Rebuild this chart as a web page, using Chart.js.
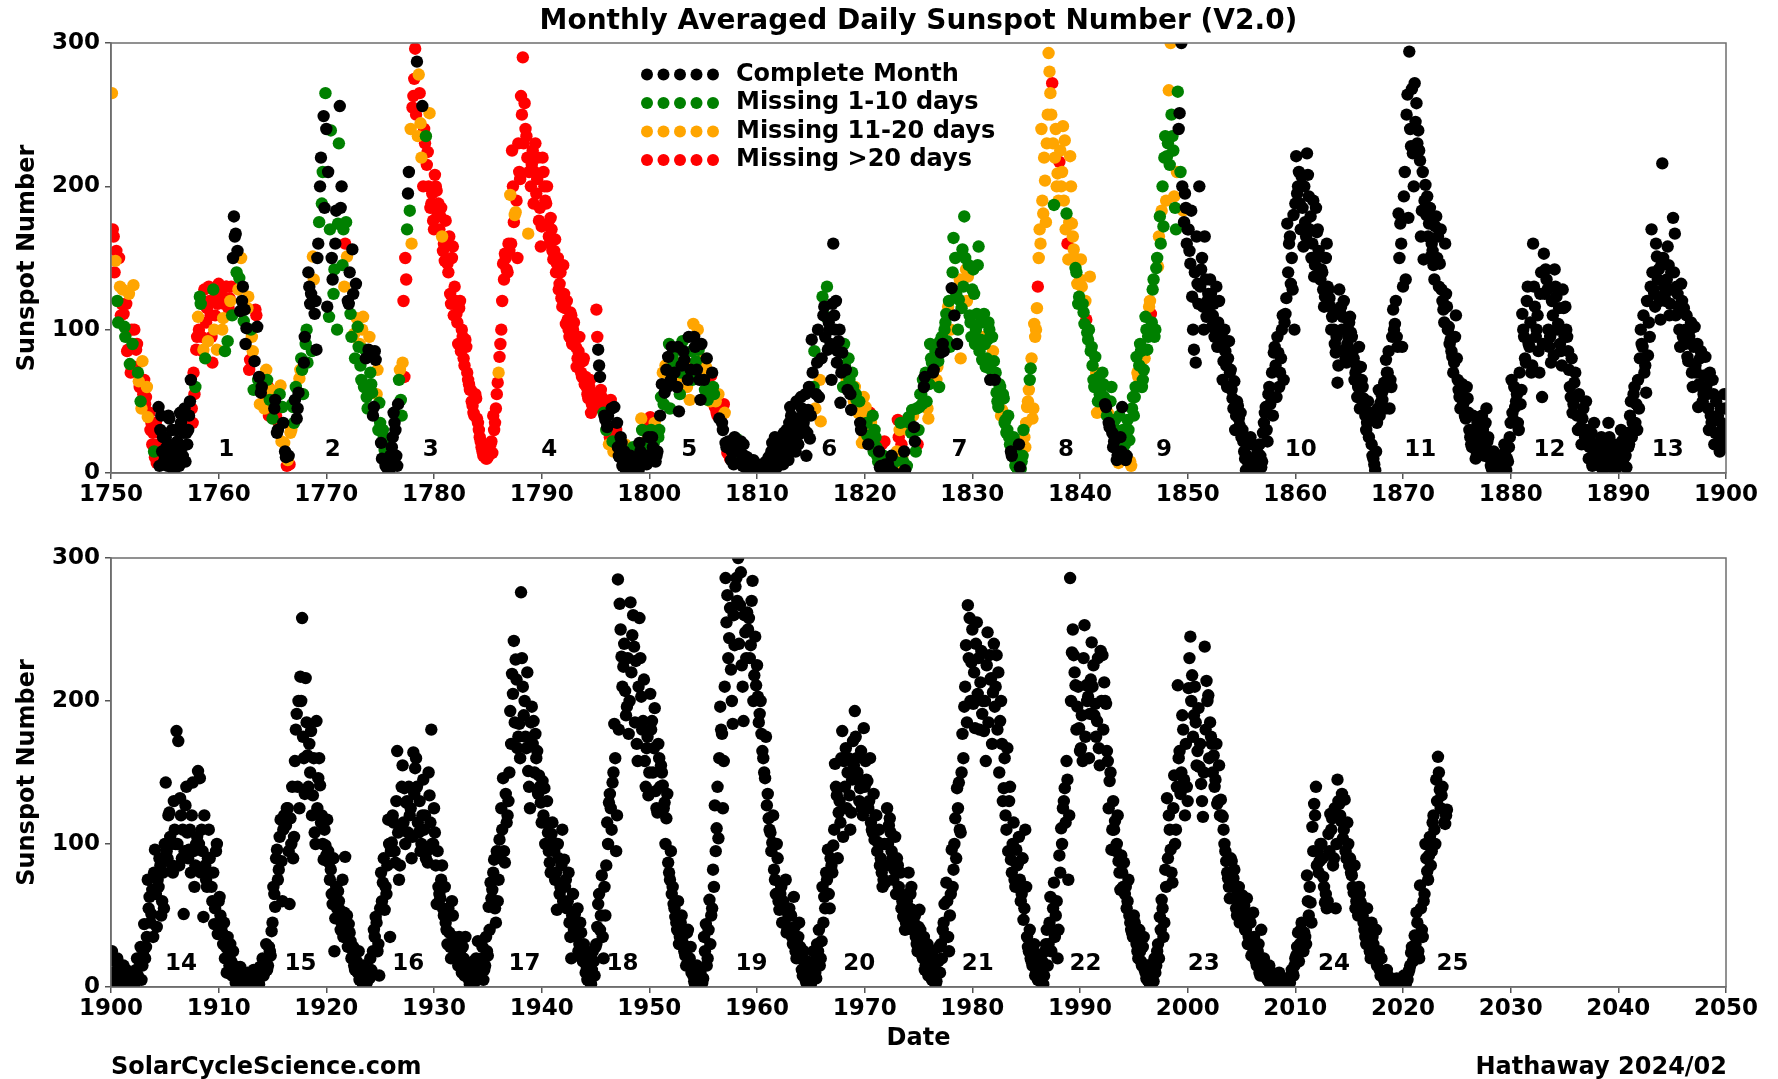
<!DOCTYPE html>
<html lang="en">
<head>
<meta charset="UTF-8" />
<title>Monthly Averaged Daily Sunspot Number (V2.0)</title>
<script src="https://cdn.jsdelivr.net/npm/chart.js"></script>
<style>
  body { margin: 0; background: #fff; }
  #page { position: relative; width: 1778px; height: 1079px; overflow: hidden; }
  canvas { position: absolute; left: 0; }
  .foot { position: absolute; top: 1052px; font: bold 24px "DejaVu Sans", sans-serif; color: #000; white-space: nowrap; }
</style>
</head>
<body>
<div id="page">
  <canvas id="topChart" width="1778" height="530" style="top:0"></canvas>
  <canvas id="bottomChart" width="1778" height="559" style="top:520px"></canvas>
  <div class="foot" style="left:111px">SolarCycleScience.com</div>
  <div class="foot" style="right:51px">Hathaway 2024/02</div>
</div>
<script>
// monthly averaged daily sunspot number
// one row per year; plain arrays hold Jan/Mar/May/Jul/Sep/Nov, "b" arrays Feb/Apr/Jun/Aug/Oct/Dec
const sn1750 = [
  [265,165,148,120,150,110],[128,102,118,86,76,100],[131,74,90,64,50,78],[65,53,39,42,35,28],[11,7,46,30,15,8],
  [25,5,38,12,20,3],[30,10,42,18,28,8],[20,40,65,35,55,86],[109,123,95,86,80,115],[130,110,77,100,125,118],
  [120,128,108,85,130,115],[120,110,179,167,155,136],[150,130,114,101,123,79],[95,58,114,102,67,56],[60,45,72,60,51,42],
  [53,51,28,35,61,46],[21,11,9,6,30,46],[51,38,56,72,72,77],[90,77,130,125,151,111],[86,160,200,188,249,265],
  [116,109,239,135,142,183],[174,256,200,170,160,151],[118,111,156,97,132,102],[90,65,109,86,53,86],[70,56,46,79,72,49],
  [21,30,16,8,2,12],[18,42,30,5,65,51],[77,67,135,195,183,160],[263,296,287,278,244,256],[240,235,224,251,188,176],
  [208,197,188,179,165,160],[176,146,165,118,158,130],[111,90,120,100,80,93],[70,62,58,47,40,52],[35,25,18,12,15,10],
  [12,20,14,30,45,63],[81,100,146,153,142,160],[194,225,175,182,150,210],[263,290,258,235,167,220],[215,188,230,205,176,158],
  [220,200,188,174,160,170],[149,163,146,128,140,116],[125,104,107,95,110,100],[93,74,85,77,67,80],[67,55,60,42,51,48],
  [114,86,67,53,42,37],[32,20,51,22,46,30],[18,11,21,8,20,4],[7,12,3,15,5,9],[21,38,10,18,6,25]
];
// k = complete month, g = missing 1-10 days, o = missing 11-20 days, r = missing >20 days
const flags1750 = [
  "orogrr","ogrrgr","orrogo","rrorrr","rrkkkk","kkkkkk","kkkkkk","kkkrrr","ogrogr","rrrorr",
  "rrogrr","ogkkkg","okkkor","ogrkkk","ooorgr","okkrog","okorog","kkkogk","ggkkok","kkkgkg",
  "kggkgk","gkkgro","kgkokg","ogoggk","ggkkog","kggkkk","kkkkgg","orrkgo","rrkook","rgrorr",
  "rrrror","rrrrrr","rrrrrr","rrrrrr","rrrrrr","rrrrrr","rrrrrr","orrorr","rrrror","rrrrrr",
  "rrrrrr","rrrrrr","rrrrrr","rrrrrr","rrrrrr","rkkrgk","korgkr","kkkkok","kkkgkk","kokgkk"
];
const sn1750b = [
  [170,140,155,105,130,118],[111,95,85,125,70,90],[100,86,70,60,45,55],[48,60,42,30,20,15],[35,20,5,40,25,12],
  [18,40,8,30,2,15],[22,5,35,12,45,28],[30,50,45,70,60,95],[100,118,85,128,105,92],[120,95,128,110,86,132],
  [125,100,118,130,92,122],[130,150,165,140,128,113],[120,106,90,115,72,100],[85,78,110,65,48,60],[55,48,65,40,58,38],
  [45,40,30,55,22,35],[15,5,12,28,48,35],[60,45,66,80,55,95],[100,140,118,85,135,120],[150,175,220,210,185,240],
  [210,170,150,125,160,100],[230,185,145,130,175,120],[140,95,125,80,108,88],[75,100,60,80,45,95],[62,40,85,55,30,35],
  [10,25,5,20,0,6],[25,35,12,48,72,40],[120,150,170,210,240,255],[275,250,235,265,220,200],[230,215,200,185,195,170],
  [200,180,170,185,155,148],[160,140,125,150,110,120],[105,115,85,95,75,88],[65,58,50,42,55,38],[30,22,15,18,10,12],
  [14,22,40,35,55,70],[90,120,135,150,140,155],[160,200,180,190,230,205],[250,230,240,220,210,200],[225,210,195,220,185,172],
  [210,190,200,165,178,155],[155,140,150,132,122,145],[115,120,100,112,90,105],[88,80,95,70,78,62],[60,52,65,48,45,55],
  [95,75,58,48,40,30],[40,25,45,15,28,35],[12,25,5,15,2,10],[4,10,18,6,14,2],[15,30,8,22,12,35]
];
const flags1750b = [
  "rrrgor","rgrorg","rrgror","rorrrg","rrkkkk","kkkkkk","kkkkkk","kkrrgr","rgrrro","rrgror",
  "rorrgr","rkkgok","kgkorg","okrgok","rogrog","krkgok","krkogg","gkoggk","gkkgok","kgkgkk",
  "kgkgkg","gkgogk","kgkgog","gogkgo","gkkogg","kgkgkk","kkkkog","rrgkor","rroror","rrrrrr",
  "rrrrrr","rrrrrr","rrrrrr","rrrrrr","rrrrrr","rrrrro","rrrrrr","rrorrr","rrrrrr","rrrrrr",
  "rrrrrr","rrrrrr","rrrrrr","rrrrrr","rrrrrr","rkrrkg","krkork","kkkkkk","kkgkok","kgkokr"
];
const sn1800 = [
  [39,25,21,8,15,30],[53,70,56,72,81,45],[88,77,77,60,43,70],[92,79,77,65,51,85],[104,88,72,86,51,80],
  [65,74,51,56,68,60],[46,42,55,38,35,48],[21,14,18,9,12,25],[24,18,7,13,20,4],[11,2,8,5,0,3],
  [3,0,6,1,4,2],[11,5,21,3,8,15],[12,25,6,18,30,9],[46,32,21,15,38,27],[53,39,30,12,44,24],
  [93,60,45,77,53,36],[123,116,109,86,100,65],[160,100,77,92,49,84],[90,72,58,65,44,60],[60,51,42,35,21,53],
  [46,26,37,35,40,30],[18,8,4,20,12,6],[3,10,2,6,0,4],[37,30,20,8,2,5],[39,30,44,32,15,20],
  [46,55,65,67,50,38],[90,77,72,85,74,60],[84,90,100,111,116,88],[129,164,150,90,121,80],[156,179,142,137,110,95],
  [142,90,111,158,93,79],[111,74,93,100,72,85],[65,56,46,60,44,52],[37,30,25,15,20,10],[14,2,4,8,30,18],
  [46,58,73,38,104,100],[130,170,240,181,204,230],[293,265,272,187,240,209],[217,200,242,232,181,149],[221,174,156,143,132,123],
  [149,118,104,107,93,137],[88,65,81,42,67,58],[70,53,46,42,32,60],[18,37,9,7,25,46],[14,9,37,23,5,53],
  [53,81,67,90,60,72],[109,86,116,111,128,95],[143,144,179,183,172,235],[221,267,300,235,193,170],[266,251,300,183,195,160]
];
const flags1800 = [
  "rkgkkg","gokkkg","kgokkg","gkokog","okkgko","kogorg","rrorkr","krkkok","gkkkkk","kkkkkk",
  "kkkkkk","kkkkkk","kkkkkk","kkkkkk","kkkkkk","kgokko","gkgkkk","kkkkkk","gkkgkg","ogokoo",
  "ogrogg","ggkrgk","kgkgko","rorgkg","gogkgr","gggkgo","ggkgog","kkggog","kggkgo","ggoogg",
  "gggggg","gggggo","kgggog","gggkgg","ggkggo","oogooo","rooooo","oorgoo","rooogo","ooogog",
  "oggrgo","gggogg","ggkokg","kgkokk","gkggog","ggoggg","ggorgg","gogogg","googog","gkkokk"
];
const sn1800b = [
  [30,18,35,12,25,40],[62,48,75,60,90,65],[82,70,65,88,55,75],[85,70,60,95,72,65],[95,78,100,65,90,70],
  [58,80,62,50,70,55],[50,40,38,45,30,42],[18,22,10,15,6,20],[15,10,22,5,12,8],[6,4,1,9,2,5],
  [2,5,0,3,8,1],[6,15,10,25,4,18],[20,8,28,15,22,35],[40,25,30,50,20,35],[45,35,55,28,60,40],
  [70,85,55,100,65,80],[110,95,130,105,90,118],[110,120,85,100,70,60],[75,65,80,55,70,50],[55,45,50,30,40,25],
  [35,20,42,28,15,25],[12,15,5,10,22,3],[6,2,12,0,8,15],[25,35,12,15,4,30],[35,28,40,22,45,30],
  [55,48,60,70,45,62],[80,70,88,65,78,92],[95,85,105,92,120,100],[140,110,125,100,135,115],[130,150,120,145,105,128],
  [125,100,145,85,105,95],[90,80,105,65,95,78],[70,50,62,40,55,35],[28,40,20,12,25,5],[8,20,3,12,25,35],
  [50,65,80,45,95,115],[150,160,190,220,175,250],[280,250,230,220,200,190],[225,210,190,170,160,175],[200,165,150,140,118,135],
  [130,112,120,98,100,85],[75,60,70,50,55,45],[62,48,40,35,50,28],[22,30,12,40,15,30],[20,12,30,8,45,40],
  [60,70,75,85,65,80],[100,95,120,105,135,100],[150,165,160,200,220,190],[230,215,250,225,185,210],[240,210,200,175,185,170]
];
const flags1800b = [
  "gkokgk","kgokgk","gkokgk","kgokkg","kgokko","gkrokg","orkrko","kkrkkk","kgkkkk","kkkkkk",
  "kkkkkk","kkkkkk","kkkkkk","kkkkkk","kkkkkk","kgkkok","kkgkkk","kkkkkg","gogkgo","gogkoo",
  "gkrogg","gkkgrk","kgkkgo","rgokgo","ggokgg","ggkgog","gkgogg","gkgggo","gkggog","ggoggg",
  "gggggo","gggkgg","gggogg","gggkgg","gkggoo","ogoooo","oooooo","oooooo","ooooro","oooggo",
  "ogoggg","ggoggo","gkgkgk","kgkgkg","gkgogg","gogggo","ggoggg","gogggo","gggggo","kgkkkk"
];
const sn1850 = [
  [170,146,123,86,77,132],[200,142,116,165,109,125],[135,102,118,100,88,120],[88,65,100,75,80,70],[58,45,30,50,38,42],
  [30,15,2,8,20,5],[10,3,18,6,12,8],[35,46,22,60,53,40],[88,53,84,70,100,65],[111,174,160,132,128,100],
  [221,200,188,207,158,175],[223,193,179,160,137,185],[170,151,142,128,123,160],[128,116,109,100,84,63],[128,116,109,86,77,95],
  [109,95,80,70,53,88],[74,60,45,30,50,38],[20,10,2,35,58,49],[51,63,79,70,45,60],[114,104,95,181,174,88],
  [193,135,264,294,228,223],[272,258,239,218,183,149],[201,193,174,151,155,135],[179,165,146,128,114,160],[116,102,93,81,77,110],
  [65,53,56,48,40,60],[42,25,18,30,10,35],[37,20,30,12,45,25],[10,3,15,8,2,6],[12,5,20,2,8,25],
  [65,37,46,55,30,48],[111,95,77,130,88,70],[160,116,100,85,125,53],[153,142,128,88,77,110],[142,123,104,90,75,115],
  [116,95,72,53,42,63],[53,30,40,20,45,25],[30,10,22,5,35,15],[15,5,25,2,10,18],[35,12,5,20,3,8],
  [15,30,8,25,4,18],[40,25,55,35,30,45],[100,88,70,56,82,95],[170,128,116,151,142,107],[216,130,120,158,110,140],
  [178,167,130,116,88,120],[115,100,81,95,105,60],[102,70,46,80,60,55],[81,55,30,40,65,20],[50,40,15,35,25,45]
];
const sn1850b = [
  [155,183,100,140,165,118],[130,150,100,135,120,112],[125,110,95,130,105,92],[95,78,85,60,92,72],[52,64,40,47,33,25],
  [22,10,12,4,25,8],[2,6,14,20,4,28],[42,30,55,48,70,84],[75,95,60,80,110,105],[122,140,165,150,180,188],
  [195,210,170,185,200,165],[208,170,150,190,145,168],[155,135,140,116,150,130],[122,100,110,90,95,75],[112,100,120,80,90,105],
  [98,85,65,75,60,45],[65,52,40,35,25,42],[12,6,15,45,40,55],[58,45,70,85,65,95],[100,120,88,150,160,130],
  [210,250,178,240,268,200],[245,230,225,165,210,190],[180,165,185,160,145,172],[150,130,170,120,105,125],[100,90,85,70,95,80],
  [58,45,62,50,38,52],[30,20,40,25,15,22],[28,40,18,35,22,15],[5,12,8,0,4,10],[8,3,15,10,18,35],
  [42,60,50,35,70,58],[100,80,120,90,105,75],[130,95,110,70,140,90],[125,135,100,95,120,82],[130,100,115,85,128,95],
  [100,85,60,80,48,70],[40,55,32,38,28,50],[22,18,28,12,20,8],[10,20,4,14,8,22],[25,10,15,2,12,6],
  [10,22,5,12,28,20],[50,35,60,48,65,80],[90,110,75,120,105,130],[140,125,160,135,120,145],[150,125,135,145,118,128],
  [140,110,125,100,132,95],[90,110,78,100,70,88],[75,90,62,85,50,68],[60,45,70,35,55,28],[38,22,45,30,55,18]
];
const sn1900 = [
  [25,10,5,20,2,15],[8,2,12,3,5,0],[10,4,20,6,28,15],[44,28,75,63,51,35],[96,42,70,85,60,55],
  [143,90,122,100,80,110],[179,172,132,90,51,127],[108,96,80,143,70,100],[151,146,110,49,85,70],[110,80,60,44,95,37],
  [63,42,30,20,10,25],[30,8,15,3,12,5],[10,2,6,0,4,8],[3,12,1,6,2,8],[20,10,30,15,25,39],
  [70,56,96,82,117,60],[120,113,125,58,100,90],[158,191,200,217,258,160],[216,162,170,179,134,108],[186,146,141,120,89,99],
  [117,87,82,58,25,70],[67,54,45,35,91,50],[44,32,21,15,25,10],[5,12,2,8,3,6],[20,10,40,49,25,8],
  [80,73,54,65,117,35],[101,115,87,165,75,110],[155,139,129,108,120,90],[164,153,140,108,95,120],[110,90,87,134,180,100],
  [108,58,70,62,85,50],[45,30,38,20,50,25],[30,15,25,10,20,35],[12,5,15,3,8,20],[32,10,20,5,15,25],
  [56,73,68,89,45,60],[103,125,146,87,115,130],[193,219,242,229,167,184],[276,210,200,167,151,125],[196,186,177,165,148,129],
  [144,139,115,108,87,107],[101,75,54,90,70,110],[89,75,60,45,20,65],[51,35,25,45,20,30],[10,5,15,2,25,8],
  [30,58,40,78,20,50],[115,129,125,143,184,95],[285,268,231,224,207,196],[177,269,246,238,228,158],[258,203,186,158,167,134]
];
const sn1900b = [
  [8,18,3,12,6,10],[15,4,8,2,10,6],[2,12,8,18,5,25],[20,35,55,45,68,80],[65,75,90,50,80,100],
  [95,120,105,85,130,100],[100,85,120,110,95,140],[90,110,120,95,85,105],[100,80,95,120,75,90],[90,70,80,55,100,60],
  [50,38,45,28,35,15],[18,25,10,6,2,14],[4,8,2,10,1,5],[6,2,9,4,14,10],[8,18,12,28,22,45],
  [65,90,75,105,88,110],[115,125,95,118,140,105],[180,140,125,200,175,135],[185,140,150,120,160,100],[125,160,115,100,110,92],
  [95,75,65,90,48,55],[60,40,75,52,35,28],[38,20,28,12,18,25],[8,4,15,2,10,6],[12,25,35,45,30,55],
  [60,90,70,85,100,95],[120,95,130,108,85,140],[115,100,130,140,125,105],[135,160,115,130,100,145],[120,95,150,115,100,125],
  [85,95,65,75,55,70],[40,55,28,60,35,20],[22,35,18,28,8,15],[10,2,6,18,4,12],[18,6,28,12,35,22],
  [40,62,80,55,95,75],[90,110,95,135,120,150],[170,205,185,215,175,160],[230,190,175,220,140,185],[170,150,160,135,140,115],
  [120,100,130,95,80,115],[95,80,100,65,85,60],[70,55,80,35,50,40],[40,55,30,38,18,25],[15,22,4,12,18,28],
  [42,65,50,35,70,85],[100,135,110,150,160,120],[180,250,210,240,190,230],[200,220,260,185,170,210],[230,180,215,140,175,150]
];
const sn1950 = [
  [205,186,167,137,122,160],[155,141,129,118,87,75],[65,58,49,40,30,45],[35,25,15,40,20,10],[8,2,15,5,10,3],
  [35,44,20,61,50,82],[127,111,104,196,177,158],[286,274,244,222,184,239],[286,300,267,225,186,248],[262,258,239,284,218,211],
  [203,191,177,160,146,127],[118,108,101,82,65,90],[54,70,60,45,38,50],[40,35,63,25,30,45],[20,8,15,3,12,5],
  [15,25,10,30,40,20],[70,63,80,96,55,85],[99,156,134,122,115,179],[158,167,150,134,122,172],[193,160,145,139,125,181],
  [158,144,130,115,108,103],[120,101,85,80,75,73],[125,113,108,90,82,65],[85,65,55,49,40,60],[80,65,54,45,35,25],
  [54,30,20,12,25,8],[15,5,20,2,10,28],[30,40,58,73,35,50],[96,82,118,139,143,108],[177,196,239,267,258,227],
  [198,181,255,230,213,191],[179,158,248,232,216,206],[196,232,220,186,170,139],[120,167,130,89,100,75],[96,87,75,65,47,110],
  [35,25,20,15,30,10],[5,20,12,2,25,40],[30,63,40,73,50,20],[92,111,125,139,158,75],[286,234,232,211,196,181],
  [167,158,253,211,203,191],[241,225,198,186,167,235],[232,213,198,158,144,96],[130,116,100,88,68,80],[87,70,60,50,40,35],
  [45,30,20,25,15,35],[10,5,15,2,8,20],[15,30,49,61,35,82],[132,120,96,73,148,110],[211,165,150,180,120,140]
];
const sn1950b = [
  [180,150,195,125,170,140],[150,125,100,135,80,95],[70,55,45,60,35,50],[30,22,38,18,28,12],[4,12,1,8,2,6],
  [25,15,40,30,55,70],[95,140,160,180,125,210],[255,230,265,200,260,280],[270,240,290,210,260,230],[250,230,270,200,245,225],
  [185,200,165,150,175,135],[110,95,120,75,100,60],[65,45,55,75,40,55],[50,30,42,20,35,28],[12,25,5,18,10,2],
  [10,18,6,25,15,32],[45,55,75,65,90,80],[110,140,90,130,160,105],[140,125,160,110,145,155],[175,150,130,165,120,140],
  [145,125,160,110,135,120],[95,110,90,70,100,85],[100,118,95,75,105,90],[70,80,60,50,45,65],[55,70,40,50,30,42],
  [40,22,35,15,30,18],[8,25,12,4,18,10],[20,45,35,60,25,65],[70,100,90,125,110,150],[160,210,185,230,200,250],
  [220,240,205,180,235,200],[200,225,185,215,170,240],[210,180,150,200,130,160],[110,95,140,80,115,70],[85,105,60,90,55,70],
  [28,40,18,25,8,22],[12,4,18,8,30,15],[45,25,55,35,60,40],[80,100,130,115,145,120],[200,250,220,180,210,165],
  [190,230,175,200,160,215],[210,190,175,230,155,200],[180,200,165,125,150,110],[110,95,120,80,92,70],[65,55,75,45,38,50],
  [35,25,40,18,28,12],[6,15,2,12,4,10],[25,20,40,55,45,70],[90,110,80,125,100,140],[160,135,190,145,170,130]
];
const sn2000 = [
  [209,245,218,190,185,165],[154,142,119,238,214,204],[185,170,162,145,128,155],[131,119,100,88,76,62],[88,76,62,50,70,55],
  [64,57,40,30,50,22],[52,25,15,30,8,20],[20,10,5,15,3,8],[5,2,8,0,3,6],[3,1,5,8,10,15],
  [22,38,30,45,25,35],[78,50,59,112,128,140],[95,88,100,77,59,55],[107,121,118,90,55,145],[128,116,104,131,90,100],
  [90,78,66,55,60,70],[59,50,40,30,45,25],[45,30,20,15,25,8],[10,5,2,8,3,6],[4,1,6,0,2,3],
  [8,2,5,12,24,18],[36,52,25,71,40,60],[100,81,92,85,115,110],[145,161,138,134,124,114],[124]
];
const sn2000b = [
  [230,200,175,210,155,195],[170,130,150,180,200,160],[175,150,140,170,130,120],[120,110,95,80,70,90],[70,82,55,65,45,60],
  [50,40,62,35,45,28],[35,18,25,10,40,12],[15,6,12,2,10,4],[1,4,10,3,2,5],[2,6,3,12,8,20],
  [28,18,40,32,38,30],[60,70,45,95,120,85],[80,100,90,70,65,60],[95,110,85,125,100,130],[120,135,110,95,115,85],
  [80,70,85,60,50,65],[52,45,35,55,38,20],[35,25,40,18,12,20],[8,3,12,6,2,4],[2,5,1,3,6,2],
  [4,6,10,15,28,22],[30,45,20,55,35,65],[90,75,105,95,120,100],[130,150,125,140,115,120]
];

const cyclesTop = [1, 2, 3, 4, 5, 6, 7, 8, 9, 10, 11, 12, 13];
const cycleYearsTop = [1760.7, 1770.6, 1779.7, 1790.7, 1803.7, 1816.7, 1828.8, 1838.7, 1847.8, 1860.5, 1871.6, 1883.6, 1894.6];
const cyclesBottom = [14, 15, 16, 17, 18, 19, 20, 21, 22, 23, 24, 25];
const cycleYearsBottom = [1906.5, 1917.6, 1927.6, 1938.4, 1947.5, 1959.5, 1969.5, 1980.5, 1990.5, 2001.5, 2013.6, 2024.6];

const legendLabels = ['Complete Month', 'Missing 1-10 days', 'Missing 11-20 days', 'Missing >20 days'];
const flagCodes = ['k', 'g', 'o', 'r'];
const colors = ['#000000', '#008000', '#ffa500', '#ff0000'];

const FONT = 'DejaVu Sans';
Chart.defaults.font.family = FONT;
Chart.defaults.color = '#000';

// blocks: [rows, first year, flags or null, month shift (0 = odd months, 1 = even months)]
function collect(blocks) {
  const sets = [[], [], [], []];
  blocks.forEach(([rows, start, flags, shift]) => {
    rows.forEach((row, yi) => {
      row.forEach((v, mi) => {
        const f = flags ? flagCodes.indexOf(flags[yi][mi]) : 0;
        sets[f].push({ x: start + yi + (2 * mi + 1 + shift) / 12, y: v });
      });
    });
  });
  return sets.map((data, i) => ({
    label: legendLabels[i],
    data,
    backgroundColor: colors[i],
    borderColor: colors[i],
    pointRadius: 6.2,
    pointHoverRadius: 6.2,
    pointBorderWidth: 0,
    clip: 0
  }));
}

const framePlugin = {
  id: 'frame',
  afterDraw(chart) {
    const { ctx, chartArea: a } = chart;
    ctx.save();
    ctx.strokeStyle = '#6e6e6e';
    ctx.lineWidth = 1.5;
    ctx.strokeRect(a.left, a.top, a.right - a.left, a.bottom - a.top);
    ctx.restore();
  }
};

// title centred over the plot area, as in the original figure
function titlePlugin(text) {
  return {
    id: 'plotTitle',
    afterDraw(chart) {
      const { ctx, chartArea: a } = chart;
      ctx.save();
      ctx.font = 'bold 28px "' + FONT + '"';
      ctx.fillStyle = '#000';
      ctx.textAlign = 'center';
      ctx.textBaseline = 'middle';
      ctx.fillText(text, (a.left + a.right) / 2, 22);
      ctx.restore();
    }
  };
}

function cyclePlugin(nums, years) {
  return {
    id: 'cycleNumbers',
    afterDraw(chart) {
      const { ctx, scales } = chart;
      ctx.save();
      ctx.font = 'bold 23px "' + FONT + '"';
      ctx.fillStyle = '#000';
      ctx.textAlign = 'center';
      ctx.textBaseline = 'middle';
      nums.forEach((n, i) => {
        ctx.fillText(String(n), scales.x.getPixelForValue(years[i]), scales.y.getPixelForValue(16));
      });
      ctx.restore();
    }
  };
}

const legendPlugin = {
  id: 'dotLegend',
  afterDraw(chart) {
    const { ctx } = chart;
    ctx.save();
    ctx.font = 'bold 24px "' + FONT + '"';
    ctx.textAlign = 'left';
    ctx.textBaseline = 'middle';
    legendLabels.forEach((label, i) => {
      const y = 74.5 + i * 28.5;
      ctx.fillStyle = colors[i];
      for (let k = 0; k < 5; k++) {
        ctx.beginPath();
        ctx.arc(647 + k * 16.5, y, 6, 0, Math.PI * 2);
        ctx.fill();
      }
      ctx.fillStyle = '#000';
      ctx.fillText(label, 736, y);
    });
    ctx.restore();
  }
};

const tickFont = { family: FONT, size: 23, weight: 'bold' };
const labelFont = { family: FONT, size: 24, weight: 'bold' };

function makeChart(id, datasets, xmin, xmax, opts) {
  return new Chart(document.getElementById(id), {
    type: 'scatter',
    data: { datasets },
    options: {
      responsive: false,
      animation: false,
      events: [],
      layout: { padding: { left: 0, right: 52, top: opts.padTop, bottom: 0 } },
      plugins: {
        legend: { display: false },
        tooltip: { enabled: false },
        title: { display: false }
      },
      scales: {
        x: {
          type: 'linear',
          min: xmin,
          max: xmax,
          afterFit: s => { s.height = opts.xHeight; },
          ticks: { stepSize: 10, font: tickFont, color: '#000', padding: 2, maxRotation: 0, autoSkip: false, callback: v => String(v) },
          grid: { drawOnChartArea: false, tickLength: 6, color: '#555', lineWidth: 1.5 },
          border: { color: '#6e6e6e', width: 1.5 },
          title: opts.xTitle ? {
            display: true, text: opts.xTitle, font: labelFont, color: '#000', padding: { top: 0, bottom: 26 }
          } : { display: false }
        },
        y: {
          min: 0,
          max: 300,
          afterFit: s => { s.width = 111; },
          ticks: { stepSize: 100, font: tickFont, color: '#000', padding: 5, callback: v => String(v) },
          grid: { drawOnChartArea: false, tickLength: 6, color: '#555', lineWidth: 1.5 },
          border: { color: '#6e6e6e', width: 1.5 },
          title: { display: true, text: 'Sunspot Number', font: labelFont, color: '#000', padding: { top: 13, bottom: 0 } }
        }
      }
    },
    plugins: opts.plugins
  });
}

makeChart('topChart',
  collect([[sn1750, 1750, flags1750, 0], [sn1750b, 1750, flags1750b, 1],
           [sn1800, 1800, flags1800, 0], [sn1800b, 1800, flags1800b, 1],
           [sn1850, 1850, null, 0], [sn1850b, 1850, null, 1]]),
  1750, 1900,
  { padTop: 43, xHeight: 57,
    plugins: [framePlugin, titlePlugin('Monthly Averaged Daily Sunspot Number (V2.0)'), cyclePlugin(cyclesTop, cycleYearsTop), legendPlugin] });

makeChart('bottomChart',
  collect([[sn1900, 1900, null, 0], [sn1900b, 1900, null, 1], [sn1950, 1950, null, 0], [sn1950b, 1950, null, 1],
           [sn2000, 2000, null, 0], [sn2000b, 2000, null, 1]]),
  1900, 2050,
  { padTop: 38, xHeight: 92, xTitle: 'Date',
    plugins: [framePlugin, cyclePlugin(cyclesBottom, cycleYearsBottom)] });
</script>
</body>
</html>
